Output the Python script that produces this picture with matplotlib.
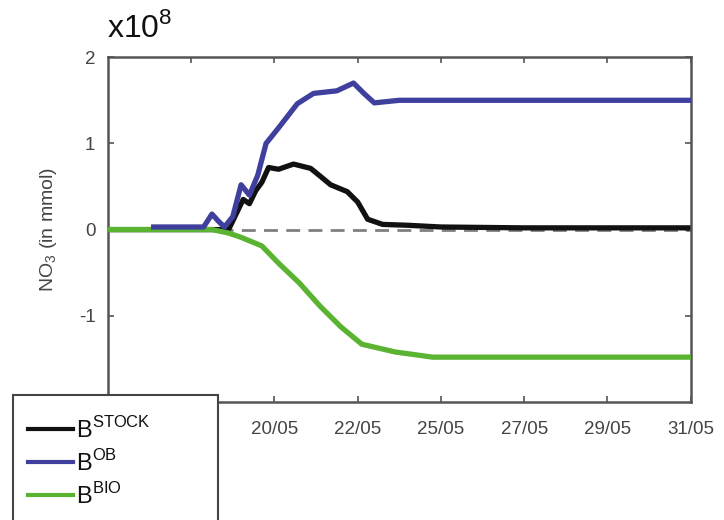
import matplotlib
matplotlib.use('Agg')
import matplotlib.pyplot as plt
from matplotlib.patches import Rectangle

plt.rcParams['font.family'] = ['Liberation Sans', 'DejaVu Sans']
plt.rcParams['mathtext.fontset'] = 'custom'
plt.rcParams['mathtext.rm'] = 'Liberation Sans'
plt.rcParams['axes.unicode_minus'] = False

# days of May, values in units of 1e8 mmol
stock_day = [16, 18.9, 19.1, 19.25, 19.4, 19.55, 19.7, 19.86, 20.1, 20.46, 20.87, 21.1,
             21.35, 21.6, 21.75, 22.0, 22.24, 22.6, 23.2, 24.0, 26, 28, 30]
stock_val = [0, 0, 0.2, 0.35, 0.3, 0.45, 0.55, 0.72, 0.7, 0.76, 0.71, 0.62,
             0.52, 0.47, 0.44, 0.32, 0.12, 0.06, 0.05, 0.03, 0.02, 0.02, 0.02]

ob_day = [17.1, 18.3, 18.5, 18.65, 18.8, 19.0, 19.2, 19.4, 19.6, 19.8, 20.1, 20.55,
          20.94, 21.5, 21.9, 22.15, 22.4, 23.0, 30]
ob_val = [0.03, 0.03, 0.18, 0.1, 0.03, 0.15, 0.52, 0.4, 0.63, 1.0, 1.18, 1.46,
          1.58, 1.61, 1.7, 1.58, 1.47, 1.5, 1.5]

bio_day = [16, 18.5, 18.9, 19.2, 19.7, 20.1, 20.6, 21.1, 21.6, 22.1, 22.9, 23.8, 30]
bio_val = [0, 0, -0.04, -0.09, -0.19, -0.39, -0.62, -0.89, -1.13, -1.33, -1.42, -1.48, -1.48]

# the 18/05 label sits under the legend box in the reference
tick_pos = [18, 20, 22, 24, 26, 28, 30]
tick_lab = ['', '20/05', '22/05', '25/05', '27/05', '29/05', '31/05']

fig = plt.figure(figsize=(7.24, 5.2), dpi=100)
ax = fig.add_axes([0.149, 0.227, 0.805, 0.663])

ax.axhline(0, color='#808080', lw=2, ls=(0, (5, 3)), zorder=1)
ax.plot(stock_day, stock_val, color='#111111', lw=3.8, zorder=2)
ax.plot(bio_day, bio_val, color='#5ab432', lw=3.8, zorder=3)
ax.plot(ob_day, ob_val, color='#3f3f9e', lw=3.8, zorder=4)

ax.set_xlim(16, 30)
ax.set_ylim(-2, 2)
ax.set_yticks([-1, 0, 1, 2])
ax.set_xticks(tick_pos)
ax.set_xticklabels(tick_lab)
ax.tick_params(direction='in', length=4, width=1.2, colors='#555555',
               labelcolor='#444444', labelsize=13.5, top=True, right=True)
ax.tick_params(axis='x', pad=14)
ax.tick_params(axis='y', pad=9)
for s in ax.spines.values():
    s.set_color('#555555')
    s.set_linewidth(1.8)

ax.set_ylabel('NO$_3$ (in mmol)', fontsize=14, color='#444444', labelpad=14)
fig.text(0.148, 0.928, r'x10$^{8}$', fontsize=23, color='#111111')

# legend box runs off the bottom edge, as in the reference
fig.patches.append(Rectangle((13 / 724, -0.05), 205 / 724, 1 - 395 / 520 + 0.05,
                             transform=fig.transFigure, facecolor='white',
                             edgecolor='#444444', lw=1.5, zorder=9))

handles = [plt.Line2D([0], [0], color='#111111', lw=3),
           plt.Line2D([0], [0], color='#3f3f9e', lw=3),
           plt.Line2D([0], [0], color='#5ab432', lw=3)]
labels = [r'B$^{\mathregular{STOCK}}$', r'B$^{\mathregular{OB}}$', r'B$^{\mathregular{BIO}}$']
leg = fig.legend(handles, labels, loc='upper left', bbox_to_anchor=(0.032, 0.208),
                 fontsize=17, frameon=False, handlelength=1.9,
                 handletextpad=0.15, labelspacing=0.3, borderpad=0.2,
                 borderaxespad=0)
leg.set_zorder(10)
for t in leg.get_texts():
    t.set_color('#111111')

fig.savefig('out.png', dpi=100)
